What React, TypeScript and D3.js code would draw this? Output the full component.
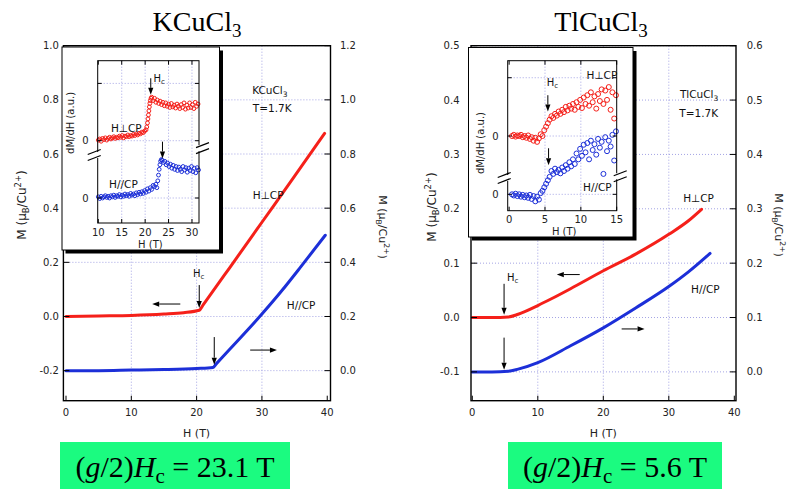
import React from "react";
import * as d3 from "d3";

// ---- main magnetization curves, H in T, M in muB/Cu2+ ----
const hTicks = [0, 10, 20, 30, 40];

// KCuCl3: H perp CP (left axis), H // CP (right axis)
const kPerpH = [0, 5, 10, 15, 18, 20.4, 21.0, 25, 30, 35, 39.6];
const kPerpM = [0.0, 0.002, 0.004, 0.009, 0.014, 0.023, 0.043, 0.178, 0.348, 0.518, 0.676];
const kParH = [0, 5, 10, 15, 20, 22.5, 23.0, 25, 30, 33, 36, 39.7];
const kParM = [0.0, 0.0, 0.002, 0.004, 0.008, 0.012, 0.025, 0.077, 0.209, 0.294, 0.385, 0.5];
const kLeftTicks = [-0.2, 0, 0.2, 0.4, 0.6, 0.8, 1.0];
const kRightTicks = [0, 0.2, 0.4, 0.6, 0.8, 1.0, 1.2];

// TlCuCl3
const tPerpH = [0, 3, 5.5, 7, 10, 12, 15, 20, 25, 30, 33, 35];
const tPerpM = [0, 0, 0.001, 0.006, 0.022, 0.034, 0.053, 0.086, 0.117, 0.153, 0.178, 0.199];
const tParH = [0, 3, 5.5, 7, 10, 15, 20, 25, 30, 33, 36.3];
const tParM = [0, 0, 0.001, 0.005, 0.017, 0.048, 0.081, 0.118, 0.157, 0.184, 0.218];
const tLeftTicks = [-0.1, 0, 0.1, 0.2, 0.3, 0.4, 0.5];
const tRightTicks = [0, 0.1, 0.2, 0.3, 0.4, 0.5, 0.6];

// ---- insets: dM/dH (a.u.), each series relative to its own zero ----
const kInPerpH = [10.0, 10.3, 10.6, 10.9, 11.2, 11.5, 11.8, 12.1, 12.4, 12.7, 13.0, 13.3, 13.6, 13.9, 14.2, 14.5, 14.8, 15.1, 15.4, 15.7, 16.0, 16.3, 16.6, 16.9, 17.2, 17.5, 17.8, 18.1, 18.4, 18.7, 19.0, 19.3, 19.6, 19.9, 20.2,
  20.35, 20.5, 20.6, 20.7, 20.8, 20.9, 21.0, 21.1, 21.25,
  21.4, 21.7, 22.0, 22.3, 22.6, 22.9, 23.2, 23.5, 23.8, 24.1, 24.4, 24.7, 25.0, 25.3, 25.6, 25.9, 26.2, 26.5, 26.8, 27.1, 27.4, 27.7, 28.0, 28.3, 28.6, 28.9, 29.2, 29.5, 29.8, 30.1, 30.4, 30.7, 31.0, 31.3];
const kInPerpV = [0.01, 0.03, -0.01, 0.04, 0.02, 0.05, 0.01, 0.04, 0.06, 0.03, 0.05, 0.07, 0.04, 0.06, 0.05, 0.08, 0.06, 0.09, 0.05, 0.08, 0.07, 0.1, 0.07, 0.09, 0.08, 0.11, 0.09, 0.12, 0.1, 0.13, 0.12, 0.15, 0.14, 0.17, 0.19,
  0.24, 0.31, 0.38, 0.45, 0.52, 0.59, 0.65, 0.7, 0.74,
  0.76, 0.7, 0.74, 0.67, 0.71, 0.65, 0.69, 0.63, 0.67, 0.61, 0.66, 0.6, 0.64, 0.58, 0.65, 0.59, 0.62, 0.57, 0.64, 0.6, 0.56, 0.63, 0.58, 0.66, 0.55, 0.62, 0.57, 0.66, 0.58, 0.63, 0.56, 0.67, 0.6, 0.64];
const kInParH = [10.0, 10.3, 10.6, 10.9, 11.2, 11.5, 11.8, 12.1, 12.4, 12.7, 13.0, 13.3, 13.6, 13.9, 14.2, 14.5, 14.8, 15.1, 15.4, 15.7, 16.0, 16.3, 16.6, 16.9, 17.2, 17.5, 17.8, 18.1, 18.4, 18.7, 19.0, 19.3, 19.6, 19.9, 20.2, 20.5, 20.8, 21.1, 21.4, 21.7, 22.0,
  22.3, 22.5, 22.7, 22.85, 23.0, 23.15, 23.3, 23.45,
  23.6, 23.9, 24.2, 24.5, 24.8, 25.1, 25.4, 25.7, 26.0, 26.3, 26.6, 26.9, 27.2, 27.5, 27.8, 28.1, 28.4, 28.7, 29.0, 29.3, 29.6, 29.9, 30.2, 30.5, 30.8, 31.1, 31.4];
const kInParV = [0.02, -0.01, 0.03, 0.0, 0.02, 0.04, 0.01, 0.03, 0.0, 0.04, 0.02, 0.05, 0.01, 0.04, 0.03, 0.06, 0.02, 0.05, 0.03, 0.07, 0.04, 0.06, 0.03, 0.08, 0.05, 0.07, 0.04, 0.09, 0.06, 0.1, 0.07, 0.11, 0.08, 0.13, 0.1, 0.16, 0.12, 0.18, 0.15, 0.22, 0.2,
  0.24, 0.18, 0.3, 0.4, 0.5, 0.58, 0.64, 0.67,
  0.66, 0.62, 0.64, 0.58, 0.61, 0.55, 0.59, 0.52, 0.57, 0.5, 0.55, 0.48, 0.54, 0.5, 0.46, 0.55, 0.49, 0.53, 0.45, 0.52, 0.48, 0.55, 0.46, 0.52, 0.44, 0.53, 0.49];

const tInH = [0.4, 0.65, 0.9, 1.15, 1.4, 1.65, 1.9, 2.15, 2.4, 2.65, 2.9, 3.15, 3.4, 3.65, 3.9, 4.15, 4.4, 4.65, 4.9, 5.15, 5.4, 5.65, 5.9, 6.15, 6.4, 6.65, 6.9, 7.15, 7.4, 7.65, 7.9, 8.15, 8.4, 8.65, 8.9, 9.15, 9.4, 9.65, 9.9, 10.15, 10.4, 10.65, 10.9, 11.15, 11.4, 11.65, 11.9, 12.15, 12.4, 12.65, 12.9, 13.15, 13.4, 13.65, 13.9, 14.15, 14.4, 14.65, 14.9];
const tInPerpV = [0.0, 0.02, -0.01, 0.01, 0.0, 0.02, -0.02, 0.0, -0.03, 0.01, -0.05, -0.02, -0.08, -0.03, -0.1, -0.04, 0.03, 0.0, 0.1, 0.16, 0.22, 0.28, 0.34, 0.31, 0.38, 0.35, 0.42, 0.38, 0.45, 0.41, 0.5, 0.44, 0.52, 0.47, 0.55, 0.45, 0.58, 0.5, 0.62, 0.48, 0.66, 0.55, 0.7, 0.52, 0.75, 0.58, 0.68, 0.47, 0.72, 0.6, 0.8, 0.55, 0.78, 0.62, 0.84, 0.45, 0.75, 0.3, 0.7];
const tInParV = [0.0, -0.02, 0.01, -0.03, 0.0, -0.04, -0.01, -0.05, -0.02, -0.06, -0.01, -0.08, -0.03, -0.12, -0.04, -0.09, 0.02, 0.06, 0.12, 0.18, 0.24, 0.3, 0.4, 0.35, 0.44, 0.38, 0.42, 0.36, 0.46, 0.4, 0.5, 0.44, 0.55, 0.48, 0.6, 0.52, 0.7, 0.6, 0.78, 0.66, 0.85, 0.72, 0.88, 0.6, 0.92, 0.76, 0.86, 0.68, 0.95, 0.8, 0.9, 0.35, 0.98, 0.74, 0.92, 0.82, 1.02, 0.58, 1.08];
const kInTicks = [10, 15, 20, 25, 30];
const tInTicks = [0, 5, 10, 15];
const inYTicks = [1, 0, -1];
const BREAK = 1; // lower (H//CP) trace sits one unit below

const RED = "#f5201a";
const BLUE = "#1c2fd8";
const GRID = "#a4a4e4";
const GREEN = "#1bfb80";
const SANS = "'DejaVu Sans', Verdana, sans-serif";
const SERIF = "'Liberation Serif', 'Times New Roman', serif";

type Sc = d3.ScaleLinear<number, number>;

function Arrow({ x1, y1, x2, y2 }: { x1: number; y1: number; x2: number; y2: number }) {
  const a = Math.atan2(y2 - y1, x2 - x1);
  const L = 7, w = 2.6;
  const bx = x2 - L * Math.cos(a), by = y2 - L * Math.sin(a);
  const pts = [
    [x2, y2],
    [bx + w * Math.sin(a), by - w * Math.cos(a)],
    [bx - w * Math.sin(a), by + w * Math.cos(a)],
  ];
  return (
    <g>
      <line x1={x1} y1={y1} x2={bx} y2={by} stroke="#000" strokeWidth={1} />
      <polygon points={pts.map((p) => p.join(",")).join(" ")} fill="#000" />
    </g>
  );
}

function Hc({ x, y, anchor = "start" }: { x: number; y: number; anchor?: string }) {
  return (
    <text x={x} y={y} fontSize={10} textAnchor={anchor} fill="#111">
      H<tspan fontSize={7} dy={2}>c</tspan>
    </text>
  );
}

function MTitle({ x, y, rot, size }: { x: number; y: number; rot: number; size: number }) {
  return (
    <text transform={`translate(${x},${y}) rotate(${rot})`} textAnchor="middle" fontSize={size} fill="#222">
      M (μ<tspan fontSize={size * 0.7} dy={3}>B</tspan>
      <tspan dy={-3}>/Cu</tspan>
      <tspan fontSize={size * 0.7} dy={-5}>2+</tspan>
      <tspan dy={5}>)</tspan>
    </text>
  );
}

function MainPanel(p: {
  x0: number; x1: number; y0: number; y1: number;
  xDom: [number, number]; yDom: [number, number]; off: number;
  yTicks: number[]; yTicksR: number[]; lGap: number; rGap: number;
  perp: [number[], number[]]; par: [number[], number[]];
  annot: (x: Sc, y: Sc, yR: Sc) => React.ReactNode;
}) {
  const x = d3.scaleLinear().domain(p.xDom).range([p.x0, p.x1]);
  const y = d3.scaleLinear().domain(p.yDom).range([p.y1, p.y0]);
  const yR = d3.scaleLinear().domain([p.yDom[0] + p.off, p.yDom[1] + p.off]).range([p.y1, p.y0]);
  const path = (hs: number[], ms: number[], sc: Sc) =>
    d3.line<number>().x((_, i) => x(hs[i])).y((m) => sc(m)).curve(d3.curveMonotoneX)(ms) || "";
  return (
    <g>
      {hTicks.filter((t) => t > 0 && t < 40).map((t) => (
        <line key={"gx" + t} x1={x(t)} x2={x(t)} y1={p.y0} y2={p.y1} stroke={GRID} strokeDasharray="1,2" />
      ))}
      {p.yTicks.map((t) => (
        <line key={"gy" + t} x1={p.x0} x2={p.x1} y1={y(t)} y2={y(t)} stroke={GRID} strokeDasharray="1,2" />
      ))}
      <path d={path(p.perp[0], p.perp[1], y)} fill="none" stroke={RED} strokeWidth={3} strokeLinecap="round" />
      <path d={path(p.par[0], p.par[1], yR)} fill="none" stroke={BLUE} strokeWidth={3} strokeLinecap="round" />
      <rect x={p.x0} y={p.y0} width={p.x1 - p.x0} height={p.y1 - p.y0} fill="none" stroke="#000" strokeWidth={1.4} />
      {p.yTicks.map((t) => (
        <g key={"ly" + t}>
          <line x1={p.x0} x2={p.x0 + 6} y1={y(t)} y2={y(t)} stroke="#000" />
          <text x={p.x0 - p.lGap} y={y(t) + 3.5} textAnchor="end" fontSize={10} fill="#222">{t.toFixed(1)}</text>
        </g>
      ))}
      {p.yTicksR.map((t) => (
        <g key={"ry" + t}>
          <line x1={p.x1} x2={p.x1 - 6} y1={yR(t)} y2={yR(t)} stroke="#000" />
          <text x={p.x1 + p.rGap} y={yR(t) + 3.5} textAnchor="start" fontSize={10} fill="#222">{t.toFixed(1)}</text>
        </g>
      ))}
      {hTicks.map((t) => (
        <g key={"lx" + t}>
          <line x1={x(t)} x2={x(t)} y1={p.y1} y2={p.y1 - 5} stroke="#000" />
          <text x={x(t)} y={p.y1 + 15} textAnchor="middle" fontSize={10} fill="#222">{t}</text>
        </g>
      ))}
      <text x={x(20)} y={p.y1 + 36} textAnchor="middle" fontSize={11} fill="#222">H (T)</text>
      {p.annot(x, y, yR)}
    </g>
  );
}

function Inset(p: {
  bx: number; by: number; bw: number; bh: number;
  x0: number; x1: number; y0: number; y1: number;
  xDom: [number, number]; yDom: [number, number]; xTicks: number[];
  perp: [number[], number[]]; par: [number[], number[]];
  brL: number; brR: number; labV: number; r: number;
  annot: (x: Sc, y: Sc) => React.ReactNode;
}) {
  const x = d3.scaleLinear().domain(p.xDom).range([p.x0, p.x1]);
  const y = d3.scaleLinear().domain(p.yDom).range([p.y1, p.y0]);
  const brk = (ax: number, yy: number, side: number) => (
    <g>
      <rect x={ax - 2} y={yy - 3} width={4} height={6} fill="#fff" />
      {[-3, 3].map((d) => (
        <line key={d} x1={side < 0 ? ax - 10 : ax - 3} y1={yy + d + 2.5} x2={side < 0 ? ax + 3 : ax + 10} y2={yy + d - 2.5}
          stroke="#000" strokeWidth={1.2} />
      ))}
    </g>
  );
  return (
    <g>
      <rect x={p.bx + 3.5} y={p.by + 3.5} width={p.bw} height={p.bh} fill="#000" />
      <rect x={p.bx} y={p.by} width={p.bw} height={p.bh} fill="#fff" stroke="#000" strokeWidth={1} />
      {p.xTicks.filter((t) => x(t) > p.x0 + 3 && x(t) < p.x1 - 3).map((t) => (
        <line key={"gx" + t} x1={x(t)} x2={x(t)} y1={p.y0} y2={p.y1} stroke={GRID} strokeDasharray="1,2" />
      ))}
      {inYTicks.map((t) => (
        <line key={"gy" + t} x1={p.x0} x2={p.x1} y1={y(t)} y2={y(t)} stroke={GRID} strokeDasharray="1,2" />
      ))}
      {p.perp[0].map((h, i) => (
        <circle key={"p" + i} cx={x(h)} cy={y(p.perp[1][i])} r={p.r} fill="none" stroke={RED} strokeWidth={1} />
      ))}
      {p.par[0].map((h, i) => (
        <circle key={"q" + i} cx={x(h)} cy={y(p.par[1][i] - BREAK)} r={p.r} fill="none" stroke={BLUE} strokeWidth={1} />
      ))}
      <rect x={p.x0} y={p.y0} width={p.x1 - p.x0} height={p.y1 - p.y0} fill="none" stroke="#000" strokeWidth={1} />
      {p.xTicks.map((t) => (
        <g key={"t" + t}>
          <line x1={x(t)} x2={x(t)} y1={p.y1} y2={p.y1 - 4} stroke="#000" />
          <line x1={x(t)} x2={x(t)} y1={p.y0} y2={p.y0 + 4} stroke="#000" />
          <text x={x(t)} y={p.y1 + 12.5} textAnchor="middle" fontSize={10} fill="#222">{t}</text>
        </g>
      ))}
      {inYTicks.map((t) => (
        <g key={"yt" + t}>
          <line x1={p.x0} x2={p.x0 + 4} y1={y(t)} y2={y(t)} stroke="#000" />
          <line x1={p.x1} x2={p.x1 - 4} y1={y(t)} y2={y(t)} stroke="#000" />
          {t <= 0 && (
            <text x={p.x0 - 9} y={y(t) + 3.5} textAnchor="end" fontSize={10} fill="#222">0</text>
          )}
        </g>
      ))}
      {brk(p.x0, y(p.brL), -1)}
      {brk(p.x1, y(p.brR), 1)}
      <text transform={`translate(${p.x0 - 24},${y(p.labV)}) rotate(-90)`} textAnchor="middle" fontSize={10} fill="#222">
        dM/dH (a.u.)
      </text>
      <text x={(p.x0 + p.x1) / 2 + 2} y={p.y1 + 24.5} textAnchor="middle" fontSize={10} fill="#222">H (T)</text>
      {p.annot(x, y)}
    </g>
  );
}

function Formula({ x, w, value }: { x: number; w: number; value: string }) {
  return (
    <g>
      <rect x={x} y={442} width={w} height={47} fill={GREEN} />
      <text x={x + w / 2} y={477} textAnchor="middle" fontFamily={SERIF} fontSize={30} fill="#000">
        (<tspan fontStyle="italic">g</tspan>/2)<tspan fontStyle="italic">H</tspan>
        <tspan fontSize={21} dy={6}>c</tspan>
        <tspan dy={-6}> = {value} T</tspan>
      </text>
    </g>
  );
}

export default function App() {
  return (
    <svg width={790} height={489} fontFamily={SANS} style={{ position: "absolute", left: 0, top: 0, background: "#fff" }}>
      <rect width={790} height={489} fill="#fff" />

      <MainPanel
        x0={63.4} x1={330.5} y0={45.7} y1={400.7} xDom={[-0.4, 40.5]} yDom={[-0.311, 1.0]} off={0.2}
        yTicks={kLeftTicks} yTicksR={kRightTicks} lGap={4.5} rGap={9.5}
        perp={[kPerpH, kPerpM]} par={[kParH, kParM]}
        annot={(x, y, yR) => (
          <g>
            <Hc x={x(20.3)} y={y(0.146)} anchor="middle" />
            <Arrow x1={x(20.4)} y1={y(0.116)} x2={x(20.4)} y2={y(0.031)} />
            <Arrow x1={x(17.5)} y1={y(0.046)} x2={x(13.2)} y2={y(0.046)} />
            <Arrow x1={x(22.7)} y1={yR(0.124)} x2={x(22.7)} y2={yR(0.022)} />
            <Arrow x1={x(28.2)} y1={yR(0.076)} x2={x(32.3)} y2={yR(0.076)} />
            <text x={x(33.8)} y={y(0.027)} fontSize={10.5} fill="#111">H//CP</text>
            <text x={x(28.6)} y={y(0.434)} fontSize={10.5} fill="#111">H⊥CP</text>
            <text x={x(28.5)} y={y(0.82)} fontSize={10.5} fill="#111">KCuCl<tspan fontSize={7.5} dy={3}>3</tspan></text>
            <text x={x(28.6)} y={y(0.755)} fontSize={10.5} fill="#111">T=1.7K</text>
          </g>
        )}
      />
      <Inset
        bx={62} by={47} bw={157.5} bh={203}
        x0={97.7} x1={199} y0={60.7} y1={223} xDom={[9.87, 31.5]} yDom={[-1.436, 1.396]} xTicks={kInTicks}
        perp={[kInPerpH, kInPerpV]} par={[kInParH, kInParV]} brL={-0.25} brR={-0.13} labV={0.31} r={1.9}
        annot={(x, y) => (
          <g>
            <Hc x={x(21.8)} y={y(1.03)} />
            <Arrow x1={x(21.2)} y1={y(1.09)} x2={x(21.2)} y2={y(0.8)} />
            <Arrow x1={x(23.7)} y1={y(-0.017)} x2={x(23.7)} y2={y(-0.31)} />
            <text x={x(12.7)} y={y(0.157)} fontSize={10.5} fill="#111">H⊥CP</text>
            <text x={x(12.3)} y={y(-0.83)} fontSize={10.5} fill="#111">H//CP</text>
          </g>
        )}
      />

      <MainPanel
        x0={471} x1={736} y0={45.7} y1={400.7} xDom={[-0.2, 40.26]} yDom={[-0.153, 0.5]} off={0.1}
        yTicks={tLeftTicks} yTicksR={tRightTicks} lGap={11.5} rGap={10.7}
        perp={[tPerpH, tPerpM]} par={[tParH, tParM]}
        annot={(x, y, yR) => (
          <g>
            <Hc x={x(5.3)} y={y(0.068)} />
            <Arrow x1={x(4.85)} y1={y(0.062)} x2={x(4.85)} y2={y(0.005)} />
            <Arrow x1={x(4.85)} y1={yR(0.063)} x2={x(4.85)} y2={yR(0.004)} />
            <Arrow x1={x(16.4)} y1={y(0.079)} x2={x(12.9)} y2={y(0.079)} />
            <Arrow x1={x(22.8)} y1={yR(0.079)} x2={x(26.3)} y2={yR(0.079)} />
            <text x={x(32.2)} y={y(0.213)} fontSize={10.5} fill="#111">H⊥CP</text>
            <text x={x(33.4)} y={y(0.045)} fontSize={10.5} fill="#111">H//CP</text>
            <text x={x(31.7)} y={y(0.404)} fontSize={10.5} fill="#111">TlCuCl<tspan fontSize={7.5} dy={3}>3</tspan></text>
            <text x={x(31.6)} y={y(0.369)} fontSize={10.5} fill="#111">T=1.7K</text>
          </g>
        )}
      />
      <Inset
        bx={468.5} by={47.5} bw={164.5} bh={189.5}
        x0={507.7} x1={616.7} y0={60.7} y1={210.7} xDom={[-0.2, 15]} yDom={[-1.281, 1.292]} xTicks={tInTicks}
        perp={[tInH, tInPerpV]} par={[tInH, tInParV]} brL={-0.72} brR={-0.69} labV={-0.12} r={2.5}
        annot={(x, y) => (
          <g>
            <Hc x={x(5.25)} y={y(0.86)} />
            <Arrow x1={x(5.4)} y1={y(0.7)} x2={x(5.4)} y2={y(0.42)} />
            <Arrow x1={x(5.5)} y1={y(-0.21)} x2={x(5.5)} y2={y(-0.5)} />
            <text x={x(10.8)} y={y(0.97)} fontSize={10.5} fill="#111">H⊥CP</text>
            <text x={x(10.3)} y={y(-0.94)} fontSize={10.5} fill="#111">H//CP</text>
          </g>
        )}
      />

      <MTitle x={26} y={205} rot={-90} size={12} />
      <MTitle x={379} y={227} rot={90} size={11} />
      <MTitle x={436} y={207} rot={-90} size={12} />
      <MTitle x={775} y={225} rot={90} size={11} />

      <text x={197} y={31} textAnchor="middle" fontFamily={SERIF} fontSize={28} fill="#000">
        KCuCl<tspan fontSize={19} dy={6}>3</tspan>
      </text>
      <text x={601} y={31} textAnchor="middle" fontFamily={SERIF} fontSize={28} fill="#000">
        TlCuCl<tspan fontSize={19} dy={6}>3</tspan>
      </text>

      <Formula x={60} w={230} value="23.1" />
      <Formula x={508} w={214} value="5.6" />
    </svg>
  );
}
